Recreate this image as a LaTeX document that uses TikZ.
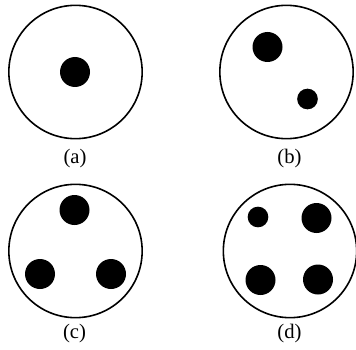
\documentclass[tikz,border=0pt]{standalone}
\usepackage{fontspec}
\setmainfont{Liberation Serif}
\usepackage{tikz}

\begin{document}
\begin{tikzpicture}[
  x=0.75pt, y=-0.75pt,
  ring/.style={circle, draw, line width=1.2pt, minimum size=100pt, inner sep=0pt},
  dot/.style={circle, fill=black, minimum size=22.5pt, inner sep=0pt},
  smalldot/.style={dot, minimum size=15.5pt},
  tag/.style={font=\fontsize{15.5}{17}\selectfont, inner sep=0pt}
]
  \useasboundingbox (0,0) rectangle (356,349);
  % (a)
  \node[ring] (ra) at (75.5,72) {};
  \node[dot] (a1) at (75,72) {};
  \node[tag] (la) at (75,159) {(a)};
  % (b)
  \node[ring] (rb) at (286.5,72) {};
  \node[dot] (b1) at (267.5,47) {};
  \node[smalldot] (b2) at (307.5,99) {};
  \node[tag] (lb) at (289.5,159) {(b)};
  % (c)
  \node[ring] (rc) at (75.5,251) {};
  \node[dot] (c1) at (74.5,210) {};
  \node[dot] (c2) at (40,274) {};
  \node[dot] (c3) at (111,274) {};
  \node[tag] (lc) at (74.5,334) {(c)};
  % (d)
  \node[ring] (rd) at (290,251) {};
  \node[smalldot] (d1) at (258,217) {};
  \node[dot] (d2) at (316.5,218) {};
  \node[dot] (d3) at (260.5,280) {};
  \node[dot] (d4) at (318,279.5) {};
  \node[tag] (ld) at (289.5,334) {(d)};
\end{tikzpicture}
\end{document}
